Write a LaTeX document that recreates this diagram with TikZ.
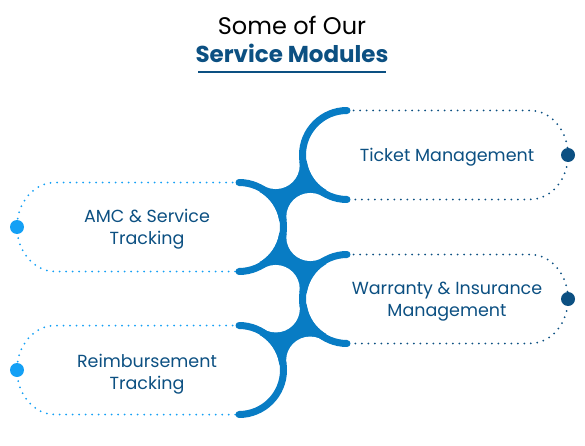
\documentclass[tikz,border=0pt]{standalone}
\usepackage{fontspec}
\setmainfont{Poppins}
\usepackage{tikz}
\usetikzlibrary{calc,positioning}

\definecolor{spineblue}{RGB}{8,124,196}
\definecolor{darkblue}{RGB}{12,80,130}
\definecolor{lightblue}{RGB}{20,160,245}

\begin{document}
\begin{tikzpicture}[x=1pt, y=1pt,
    spine/.style = {line width=7pt, spineblue, line cap=round},
    dots/.style = {line width=2pt, dash pattern=on 0pt off 6.5pt, line cap=round},
    label/.style = {text=darkblue, align=center, font=\fontsize{17.5}{22}\selectfont},
    blob/.style = {circle, inner sep=0pt, minimum size=14pt},]
    \useasboundingbox (0,0) rectangle (585,445);
    % centres of the four arcs
    \coordinate (ticket) at (347,290);
    \coordinate (amc) at (239,218);
    \coordinate (warranty) at (347,146);
    \coordinate (reimb) at (239,75);
    % title
    \node [anchor=base, inner sep=0pt, font=\fontsize{24}{28}\selectfont] (title_top) at (292,410) {Some of Our};
    \node [anchor=base, inner sep=0pt, text=darkblue, font=\bfseries\fontsize{23}{27}\selectfont] (title_bot) at (292,382) {Service Modules};
    \draw [darkblue, line width=2pt] ([xshift=3pt, yshift=-9pt]title_bot.south west) -- ([xshift=-3pt, yshift=-9pt]title_bot.south east);
    % bridges between neighbouring arcs
    \foreach \a/\b in {ticket/amc, amc/warranty, warranty/reimb} {
      \coordinate (mid) at ($(\a)!0.5!(\b)$);
      \fill [spineblue] (\a) -- ($(mid)!31.2pt!90:(\b)$) -- (\b) -- ($(mid)!31.2pt!-90:(\b)$) -- cycle;
    }
    \foreach \a/\b in {ticket/amc, amc/warranty, warranty/reimb} {
      \coordinate (mid) at ($(\a)!0.5!(\b)$);
      \fill [white] ($(mid)!31.2pt!90:(\b)$) circle (24pt) ($(mid)!31.2pt!-90:(\b)$) circle (24pt);
    }
    \foreach \c in {ticket, amc, warranty, reimb}
      \fill [white] (\c) circle (40.5pt);
    % dots at the ends
    \node [blob, fill=darkblue] (ticket_dot) at (568,290) {};
    \node [blob, fill=darkblue] (warranty_dot) at (568,146) {};
    \node [blob, fill=lightblue] (amc_dot) at (17,218) {};
    \node [blob, fill=lightblue] (reimb_dot) at (17,75) {};
    % dotted outlines
    \draw [dots, darkblue] ([yshift=44.5pt]ticket) -- ++(183,0) arc[start angle=90, end angle=-90, x radius=38, y radius=44.5] -- ([yshift=-44.5pt]ticket);
    \draw [dots, darkblue] ([yshift=44.5pt]warranty) -- ++(183,0) arc[start angle=90, end angle=-90, x radius=38, y radius=44.5] -- ([yshift=-44.5pt]warranty);
    \draw [dots, lightblue] ([yshift=44.5pt]amc) -- ++(-184,0) arc[start angle=90, end angle=270, x radius=38, y radius=44.5] -- ([yshift=-44.5pt]amc);
    \draw [dots, lightblue] ([yshift=44.5pt]reimb) -- ++(-184,0) arc[start angle=90, end angle=270, x radius=38, y radius=44.5] -- ([yshift=-44.5pt]reimb);
    % arcs
    \draw [spine] ([yshift=44.5pt]ticket) arc[start angle=90, end angle=270, radius=44.5];
    \draw [spine] ([yshift=44.5pt]warranty) arc[start angle=90, end angle=270, radius=44.5];
    \draw [spine] ([yshift=44.5pt]amc) arc[start angle=90, end angle=-90, radius=44.5];
    \draw [spine] ([yshift=44.5pt]reimb) arc[start angle=90, end angle=-90, radius=44.5];
    % labels
    \node [label] (ticket_lbl) at (447,288) {Ticket Management};
    \node [label] (amc_lbl) at (147,216) {AMC \& Service\\Tracking};
    \node [label] (warranty_lbl) at (447,143) {Warranty \& Insurance\\Management};
    \node [label] (reimb_lbl) at (147,71) {Reimbursement\\Tracking};
  \end{tikzpicture}
\end{document}
